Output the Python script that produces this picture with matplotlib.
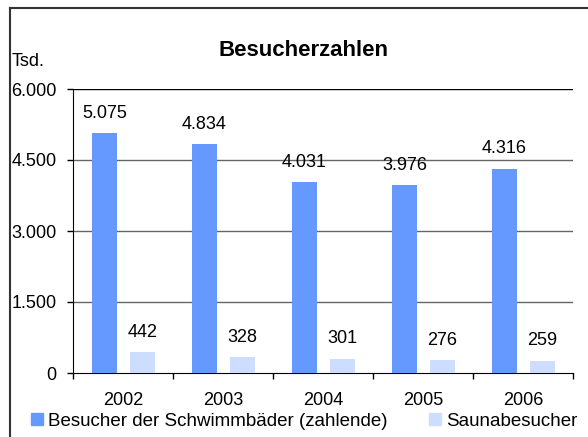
import matplotlib
matplotlib.use("Agg")
import matplotlib.pyplot as plt
from matplotlib.lines import Line2D
from matplotlib.patches import Patch
from matplotlib.ticker import FuncFormatter
import numpy as np

plt.rcParams['font.family'] = ['Liberation Sans', 'DejaVu Sans']

years = ["2002", "2003", "2004", "2005", "2006"]
schwimm = [5075, 4834, 4031, 3976, 4316]
sauna = [442, 328, 301, 276, 259]
series_names = ["Besucher der Schwimmbäder (zahlende)", "Saunabesucher"]
yticks = [0, 1500, 3000, 4500, 6000]

def de_fmt(v):
    return f"{int(round(v)):,}".replace(",", ".")

fig = plt.figure(figsize=(5.88, 4.37), dpi=100)
ax = fig.add_axes([73/588, 1-373/437, 500/588, (373-89)/437])

x = np.arange(len(years))
w = 0.25
b1 = ax.bar(x - 0.185, schwimm, w, color="#6699FF", zorder=3)
b2 = ax.bar(x + 0.195, sauna, w, color="#CCDDFF", zorder=3)

for bars, vals in ((b1, schwimm), (b2, sauna)):
    for r, v in zip(bars, vals):
        ax.annotate(de_fmt(v), (r.get_x() + r.get_width()/2, v),
                    xytext=(0, 11), textcoords="offset points",
                    ha="center", va="baseline", fontsize=13)

ax.set_xlim(-0.5, len(years) - 0.5)
ax.set_ylim(0, 6000)
ax.set_yticks(yticks)
ax.yaxis.set_major_formatter(FuncFormatter(lambda v, p: de_fmt(v)))
for yv in yticks[1:]:
    ax.axhline(yv, color="#000000" if yv == yticks[-1] else "#666666", lw=1.0, zorder=1)

ax.set_xticks(x)
ax.set_xticklabels(years)
ax.set_xticks(np.arange(len(years) + 1) - 0.5, minor=True)
ax.tick_params(axis="x", which="major", length=0, pad=14, labelsize=13)
ax.tick_params(axis="x", which="minor", length=4, width=1)
ax.tick_params(axis="y", length=4, width=1, pad=8, labelsize=13)

for s in ("top", "right"):
    ax.spines[s].set_visible(False)
ax.spines["left"].set_color("#000000")
ax.spines["bottom"].set_color("#000000")

fig.text(303/588, 1-51/437, "Besucherzahlen", ha="center", va="center",
         fontsize=16, fontweight="bold")
fig.text(12/588, 1-62/437, "Tsd.", ha="left", va="center", fontsize=13)

handles = [Patch(color="#6699FF"), Patch(color="#CCDDFF")]
fig.legend(handles, series_names, loc="center", bbox_to_anchor=(304/588, 1-421/437),
           ncol=2, frameon=False, fontsize=13.5, handlelength=0.65, handleheight=0.65,
           handletextpad=0.27, columnspacing=2.2, borderpad=0)

fig.add_artist(Line2D([10/588, 10/588], [0, 1-8/437], color="#333333", lw=1.5,
                      transform=fig.transFigure))
fig.add_artist(Line2D([10/588, 1], [1-8/437, 1-8/437], color="#333333", lw=1.5,
                      transform=fig.transFigure))

fig.savefig("out.png", dpi=100)
